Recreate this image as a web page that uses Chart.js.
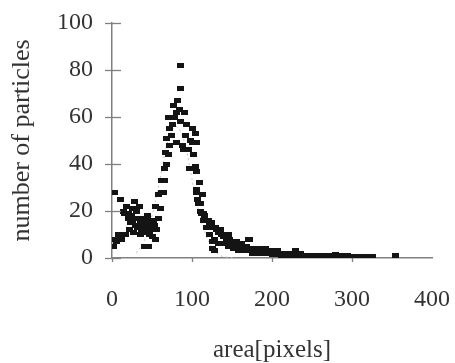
<!DOCTYPE html>
<html>
<head>
<meta charset="utf-8">
<script src="https://cdn.jsdelivr.net/npm/chart.js@4/dist/chart.umd.min.js"></script>
<style>
html,body{margin:0;padding:0;background:#fff;}
#wrap{width:455px;height:363px;position:relative;}
</style>
</head>
<body>
<div id="wrap"><canvas id="c" width="455" height="363"></canvas></div>
<script>
// ---- data ----
const areaPx = [2,3,4,6,8,10,12,14,16,17,18,20,21,22,23,24,25,26,27,28,29,30,31,32,33,34,35,36,37,38,39,40,40,42,43,44,45,45,47,48,49,50,51,52,53,54,54,56,58,58,60,62,62,64,66,66,67,68,68,70,70,72,72,74,76,77,78,80,81,82,84,85,85,86,88,89,90,92,93,95,97,98,100,100,102,104,104,105,106,105,106,107,108,109,110,110,112,113,114,114,116,118,118,120,122,122,124,125,125,127,128,128,129,131,133,133,135,137,139,140,141,143,145,146,147,149,151,152,153,155,157,158,160,162,163,164,166,168,170,170,172,174,175,176,178,180,182,183,186,188,189,192,194,195,198,200,201,204,206,207,210,212,213,216,218,219,222,224,225,229,230,232,235,238,241,244,247,250,253,256,259,262,265,268,272,276,279,283,287,290,294,298,302,306,310,314,318,322,326,354];
const particles = [5,28,8,7,10,25,8,20,19,10,22,17,19,12,15,18,21,16,11,24,14,20,17,13,17,22,15,10,12,17,15,5,14,11,16,18,13,5,10,15,13,12,9,16,14,22,8,12,27,17,21,28,33,28,38,33,45,40,51,44,60,55,48,52,57,65,60,62,49,67,63,72,82,58,48,46,62,52,57,46,38,50,55,49,44,53,39,37,49,28,29,25,23,32,23,20,19,27,19,16,18,16,13,16,14,10,15,7,4,13,8,3,13,12,11,6,12,10,9,6,9,8,10,5,8,7,6,4,6,7,5,3,5,6,3,5,4,5,8,3,8,4,2,4,3,4,2,3,4,2,3,4,2,3,3,1.5,3,2,1.5,3,2,1,2,2,1,2,2,1,2,3,1,1,2,1,1,1,1,1,1,1,1,0.5,1,0.5,1,1,1.5,1,1,0.5,1,0.5,0.5,0.5,0.5,0.5,0.5,0.5,0.5,1];
// faint dotted fit curve
const fitX = [30,40,50,56,62,70,80,90,97,105,115,125,135,145,155];
const fitY = [2,7,18,27,37,50,56,50,39,25,12,4.5,1.2,0.3,0];
const xTicks = [0,100,200,300,400];
const yTicks = [0,20,40,60,80,100];

const pts = areaPx.map((x,i)=>({x:x,y:particles[i]}));
const fitPts = fitX.map((x,i)=>({x:x,y:fitY[i]}));

// rectangular marker
const mk = document.createElement('canvas');
mk.width = 7; mk.height = 5;
const mctx = mk.getContext('2d');
mctx.fillStyle = '#141414';
mctx.fillRect(0,0,7,5);

const FONT = "'Liberation Serif', 'Times New Roman', serif";
const TXT = '#333';
const AX = '#808080';

const tickPlugin = {
  id:'crossTicks',
  afterDraw(chart){
    const ctx = chart.ctx;
    const ys = chart.scales.y, xs = chart.scales.x;
    ctx.save();
    ctx.strokeStyle = AX; ctx.lineWidth = 1.3;
    yTicks.forEach(v=>{
      const py = Math.round(ys.getPixelForValue(v))+0.5;
      ctx.beginPath(); ctx.moveTo(chart.chartArea.left-7,py); ctx.lineTo(chart.chartArea.left+9,py); ctx.stroke();
    });
    const by = chart.chartArea.bottom;
    xTicks.forEach(v=>{
      if(v===400) return;
      const px = Math.round(xs.getPixelForValue(v))+0.5;
      ctx.beginPath(); ctx.moveTo(px,by); ctx.lineTo(px,by+4); ctx.stroke();
    });
    ctx.restore();
  }
};

new Chart(document.getElementById('c'),{
  type:'scatter',
  data:{datasets:[
    {data:pts, pointStyle:mk, pointRadius:3, pointHoverRadius:3, order:1, showLine:false},
    {data:fitPts, showLine:true, pointRadius:0, borderColor:'#c4c4c4', borderWidth:1, borderDash:[2,3], tension:0.4, order:2}
  ]},
  options:{
    responsive:false, animation:false,
    plugins:{legend:{display:false}, tooltip:{enabled:false}},
    layout:{padding:{left:0,right:23,top:23,bottom:0}},
    scales:{
      x:{
        type:'linear', min:xTicks[0], max:xTicks[xTicks.length-1],
        afterBuildTicks(s){ s.ticks = xTicks.map(v=>({value:v})); },
        afterFit(s){ s.height = 105; },
        grid:{display:true, drawOnChartArea:false, drawTicks:true, tickLength:27, color:'rgba(0,0,0,0)'},
        border:{display:true, color:AX, width:1.5},
        ticks:{padding:0, color:TXT, font:{family:FONT, size:24}, maxRotation:0},
        title:{display:true, text:'area[pixels]', color:TXT, font:{family:FONT, size:25}, padding:{top:0,bottom:-2}}
      },
      y:{
        type:'linear', min:yTicks[0], max:yTicks[yTicks.length-1],
        afterBuildTicks(s){ s.ticks = yTicks.map(v=>({value:v})); },
        afterFit(s){ s.width = 112; },
        grid:{display:true, drawOnChartArea:false, drawTicks:true, tickLength:19, color:'rgba(0,0,0,0)'},
        border:{display:true, color:AX, width:1.5},
        ticks:{padding:0, color:TXT, font:{family:FONT, size:24}},
        title:{display:true, text:'number of particles', color:TXT, font:{family:FONT, size:26}, padding:{top:7,bottom:0}}
      }
    }
  },
  plugins:[tickPlugin]
});
</script>
</body>
</html>
